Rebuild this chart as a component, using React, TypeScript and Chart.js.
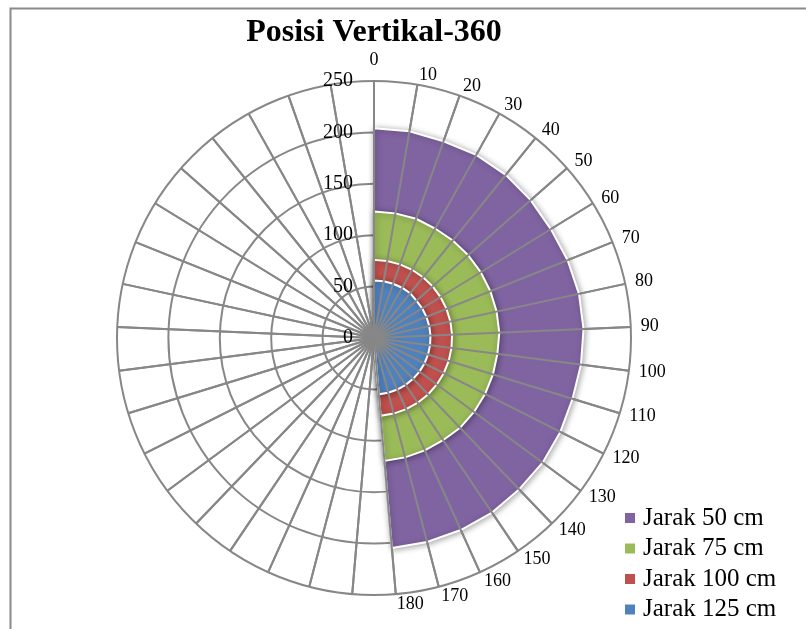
import React, { useEffect, useRef } from 'react';
import { Chart, registerables } from 'chart.js';

// ---- data ----
const categories = [
  '0', '10', '20', '30', '40', '50', '60', '70', '80', '90',
  '100', '110', '120', '130', '140', '150', '160', '170', '180',
  '', '', '', '', '', '', '', '', '', '', '', '', '', '', '', '', '', '',
];

const seriesLabels = ['Jarak 50 cm', 'Jarak 75 cm', 'Jarak 100 cm', 'Jarak 125 cm'];

const jarak50 = [
  204, 204, 203, 204, 204, 203, 202, 203, 204, 204,
  203, 202, 203, 204, 204, 205, 205, 205, 205,
  0, 0, 0, 0, 0, 0, 0, 0, 0, 0, 0, 0, 0, 0, 0, 0, 0, 0,
];
const jarak75 = [
  123, 123, 123, 122, 122, 122, 122, 122, 122, 122,
  121, 121, 121, 121, 121, 120, 120, 120, 120,
  0, 0, 0, 0, 0, 0, 0, 0, 0, 0, 0, 0, 0, 0, 0, 0, 0, 0,
];
const jarak100 = [
  76, 76, 76, 76, 76, 76, 76, 76, 76, 76,
  76, 76, 76, 76, 76, 76, 76, 76, 76,
  0, 0, 0, 0, 0, 0, 0, 0, 0, 0, 0, 0, 0, 0, 0, 0, 0, 0,
];
const jarak125 = [
  56, 56, 56, 56, 56, 55, 55, 55, 55, 55,
  55, 55, 55, 55, 55, 55, 55, 55, 55,
  0, 0, 0, 0, 0, 0, 0, 0, 0, 0, 0, 0, 0, 0, 0, 0, 0, 0,
];

const scaleMax = 250;
const scaleStep = 50;

const seriesColors = ['#8064A2', '#9BBB59', '#C0504D', '#4F81BD'];
const GRID = '#878787';
const FONT = "'Liberation Serif', 'Times New Roman', serif";

// shadow plugin registered before Filler so the fill gets the shadow
const shadowPlugin = {
  id: 'seriesShadow',
  beforeDatasetDraw(chart: any) {
    const ctx = chart.ctx;
    ctx.save();
    ctx.shadowColor = 'rgba(0,0,0,0.35)';
    ctx.shadowBlur = 6;
    ctx.shadowOffsetX = 1;
    ctx.shadowOffsetY = 1;
  },
  afterDatasetDraw(chart: any) {
    chart.ctx.restore();
  },
};
Chart.register(shadowPlugin);
Chart.register(...registerables);

const overlayPlugin = {
  id: 'overlay',
  beforeDraw(chart: any) {
    const ctx = chart.ctx;
    ctx.save();
    ctx.fillStyle = '#ffffff';
    ctx.fillRect(0, 0, chart.width, chart.height);
    ctx.strokeStyle = '#8a8a8a';
    ctx.lineWidth = 2;
    ctx.beginPath();
    ctx.moveTo(10.5, chart.height);
    ctx.lineTo(10.5, 8.5);
    ctx.lineTo(chart.width, 8.5);
    ctx.stroke();
    ctx.restore();
  },
  afterDatasetsDraw(chart: any) {
    const s = chart.scales.r;
    const ctx = chart.ctx;
    ctx.save();
    ctx.strokeStyle = GRID;
    ctx.lineWidth = 2;
    const n = chart.data.labels.length;
    for (let i = 0; i < n; i++) {
      const p = s.getPointPosition(i, s.drawingArea);
      ctx.beginPath();
      ctx.moveTo(s.xCenter, s.yCenter);
      ctx.lineTo(p.x, p.y);
      ctx.stroke();
    }
    ctx.restore();
  },
  afterDraw(chart: any) {
    const s = chart.scales.r;
    const ctx = chart.ctx;
    ctx.save();
    ctx.fillStyle = '#000';

    // category labels around the circle (Excel style: vertically centred on the anchor)
    ctx.font = `18px ${FONT}`;
    const lh = 21.6;
    const labels = chart.data.labels;
    for (let i = 0; i < labels.length; i++) {
      const text = labels[i];
      if (!text) continue;
      const p = s.getPointPosition(i, s.drawingArea + 10);
      const deg = Math.round((s.getIndexAngle(i) * 180) / Math.PI) % 360;
      let y = p.y;
      if (deg === 0) {
        ctx.textAlign = 'center';
        y = p.y - lh / 2;
      } else if (deg === 180) {
        ctx.textAlign = 'center';
        y = p.y + lh / 2;
      } else if (deg < 180) {
        ctx.textAlign = 'left';
      } else {
        ctx.textAlign = 'right';
      }
      ctx.textBaseline = 'middle';
      ctx.fillText(text, p.x, y);
    }

    // radial tick labels, right-aligned left of the 0 spoke
    ctx.font = `20px ${FONT}`;
    ctx.textAlign = 'right';
    ctx.textBaseline = 'middle';
    s.ticks.forEach((t: any) => {
      const d = s.getDistanceFromCenterForValue(t.value);
      ctx.fillText(String(t.value), s.xCenter - 21, s.yCenter - d);
    });

    // legend
    ctx.font = `25px ${FONT}`;
    ctx.textAlign = 'left';
    chart.data.datasets.forEach((ds: any, i: number) => {
      const y = 518 + i * 30.5;
      ctx.fillStyle = ds.backgroundColor;
      ctx.fillRect(625, y - 5, 10, 10);
      ctx.fillStyle = '#000';
      ctx.fillText(ds.label, 643, y);
    });
    ctx.restore();
  },
};

export default function App() {
  const ref = useRef<HTMLCanvasElement | null>(null);

  useEffect(() => {
    if (!ref.current) return;
    const values = [jarak50, jarak75, jarak100, jarak125];
    const chart = new Chart(ref.current, {
      type: 'radar',
      data: {
        labels: categories,
        datasets: values.map((v, i) => ({
          label: seriesLabels[i],
          data: v,
          backgroundColor: seriesColors[i],
          borderColor: '#ffffff',
          borderWidth: 2,
          fill: true,
          pointRadius: 0,
          pointHoverRadius: 0,
          tension: 0,
          order: 4 - i,
        })),
      },
      options: {
        responsive: false,
        animation: false,
        events: [],
        layout: { padding: { left: 24, right: 82, top: 0, bottom: 33 } },
        plugins: {
          legend: { display: false },
          tooltip: { enabled: false },
          title: {
            display: true,
            text: 'Posisi Vertikal-360',
            color: '#000',
            font: { family: FONT, size: 32, weight: 'bold', lineHeight: 1 },
            padding: { top: 17, bottom: 32 },
          },
        },
        scales: {
          r: {
            min: 0,
            max: scaleMax,
            ticks: { stepSize: scaleStep, display: false },
            grid: { circular: true, color: GRID, lineWidth: 2 },
            angleLines: { display: true, color: GRID, lineWidth: 2 },
            pointLabels: { display: false },
          },
        },
      } as any,
      plugins: [overlayPlugin],
    });
    return () => chart.destroy();
  }, []);

  return (
    <canvas
      ref={ref}
      width={806}
      height={629}
      style={{ position: 'absolute', left: 0, top: 0, display: 'block' }}
    />
  );
}
